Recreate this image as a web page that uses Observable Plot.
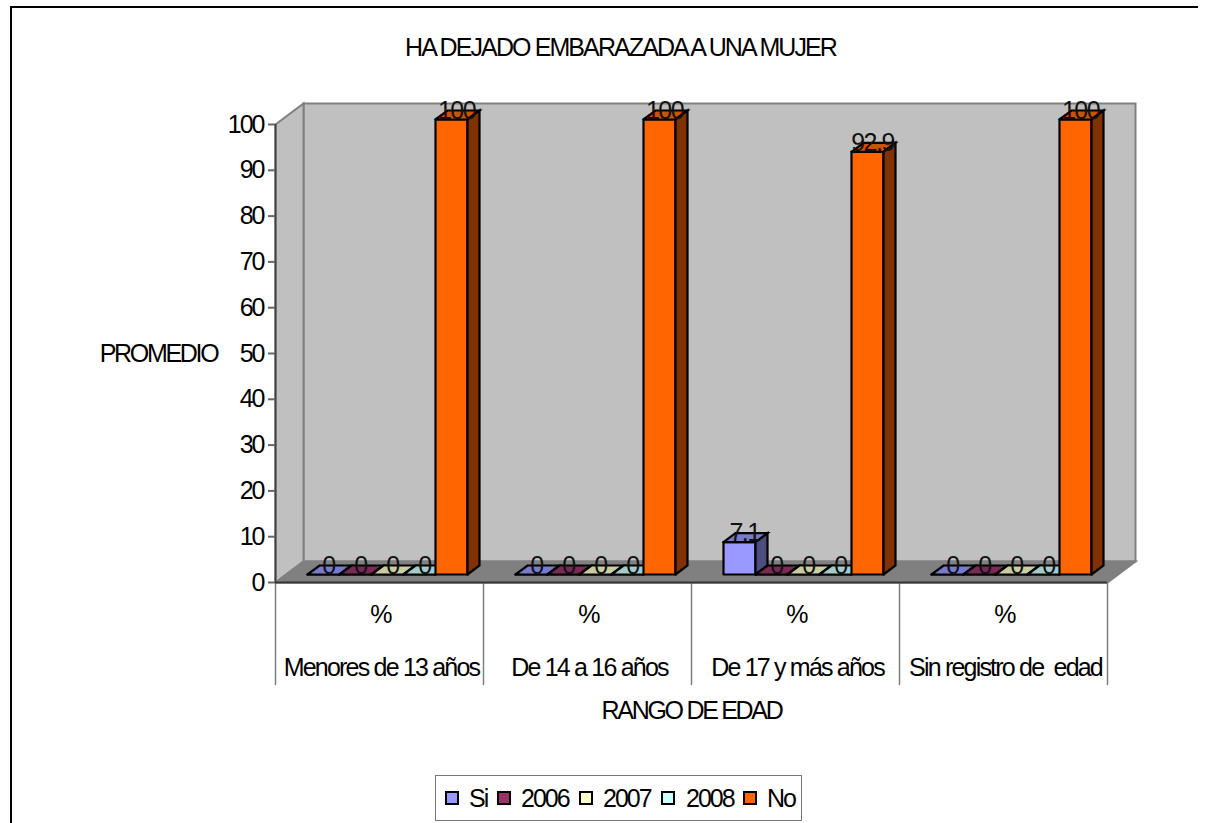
<!DOCTYPE html>
<html><head><meta charset="utf-8">
<script src="https://cdn.jsdelivr.net/npm/d3@7"></script>
<script src="https://cdn.jsdelivr.net/npm/@observablehq/plot@0.6"></script>
<style>
html,body{margin:0;padding:0;background:#fff;overflow:hidden;height:823px}
body{font-family:"Liberation Sans",Arial,sans-serif;color:#000;position:relative}
#frame{position:absolute;left:10px;top:6px;width:1186px;height:900px;border:2px solid #000;border-right:none}
#title{position:absolute;left:0;width:1241px;top:32px;text-align:center;font-size:25px;letter-spacing:-1.9px;line-height:30px}
#chart{position:absolute;left:0;top:90px}
#legend{position:absolute;left:435px;top:775px;width:365px;height:44px;border:1.5px solid #777;box-sizing:content-box}
#legend .sw{position:absolute;top:15px;width:10px;height:10px;border:2px solid #000}
#legend .lb{position:absolute;top:7px;font-size:25px;letter-spacing:-2px;line-height:30px}
svg text{font-family:"Liberation Sans",Arial,sans-serif}
.ticks text{letter-spacing:-2px}
.vals text{letter-spacing:-1.5px}
.cats text{letter-spacing:-1.8px}
.axt text{letter-spacing:-2.3px}
</style></head><body>
<div id="frame"></div>
<div id="title">HA DEJADO EMBARAZADA A UNA MUJER</div>
<div id="chart"></div>
<div id="legend"></div>
<script>
const categories = ["Menores de 13 años","De 14 a 16 años","De 17 y más años","Sin registro de  edad"];
const series = ["Si","2006","2007","2008","No"];
const siValues   = [0,0,7.1,0];
const y2006      = [0,0,0,0];
const y2007      = [0,0,0,0];
const y2008      = [0,0,0,0];
const noValues   = [100,100,92.9,100];
const valueLabels = [siValues,y2006,y2007,y2008,noValues];
const yTicks = [0,10,20,30,40,50,60,70,80,90,100];
const frontColors = ["#9999ff","#993366","#ffffcc","#ccffff","#ff6600"];
const topColors   = ["#7a7acc","#7a2952","#ccccA3","#a3cccc","#cc5200"];
const sideColors  = ["#4d4d80","#4d1a33","#808066","#668080","#803300"];

// Projection constants of the pseudo-3D box, in scale units
const pxX = 1/208, pxY = 100/458;
const wallDX = 28*pxX, wallDY = 21*pxY;
const barDX = 12*pxX, barDY = 9*pxY;
const barW = 32*pxX, barStart = 32*pxX, barBase = 8*pxY, barK = 455/458;

const rings = [];
function ring(id, fill, stroke, pts){ pts.concat([pts[0]]).forEach(p=>rings.push({id,fill,stroke,x:p[0],y:p[1]})); }

const n = categories.length;
const bars=[], labels=[];
categories.forEach((c,ci)=>{
  series.forEach((s,si)=>{
    const v = valueLabels[si][ci];
    const x0 = ci + barStart + si*barW, x1 = x0+barW;
    const y0 = barBase, y1 = barBase + v*barK;
    bars.push({k:`${ci}-${si}`,si,x0,x1,y0,y1});
    labels.push({x:(x0+x1)/2, y:y1, text:String(v)});
  });
});
bars.forEach(b=>{
  ring(b.k+"f",frontColors[b.si],"#000",[[b.x0,b.y0],[b.x1,b.y0],[b.x1,b.y1],[b.x0,b.y1]]);
  ring(b.k+"t",topColors[b.si],"#000",[[b.x0,b.y1],[b.x1,b.y1],[b.x1+barDX,b.y1+barDY],[b.x0+barDX,b.y1+barDY]]);
  ring(b.k+"s",sideColors[b.si],"#000",[[b.x1,b.y0],[b.x1+barDX,b.y0+barDY],[b.x1+barDX,b.y1+barDY],[b.x1,b.y1]]);
});
const walls=[];
function wall(id,fill,stroke,pts){ pts.concat([pts[0]]).forEach(p=>walls.push({id,fill,stroke,x:p[0],y:p[1]})); }
wall("back","#c0c0c0","#808080",[[wallDX,wallDY],[n+wallDX,wallDY],[n+wallDX,100+wallDY],[wallDX,100+wallDY]]);
wall("left","#c0c0c0","#808080",[[0,0],[wallDX,wallDY],[wallDX,100+wallDY],[0,100]]);
wall("floor","#808080","#808080",[[0,0],[n,0],[n+wallDX,wallDY],[wallDX,wallDY]]);

const plot = Plot.plot({
  width:1209, height:620,
  marginLeft:275, marginRight:102, marginTop:34, marginBottom:128,
  x:{type:"linear",domain:[0,n], axis:null},
  y:{type:"linear",domain:[0,100], axis:null},
  color:{type:"identity"},
  style:{background:"transparent",overflow:"visible"},
  marks:[
    Plot.line(walls,{x:"x",y:"y",z:"id",fill:"fill",stroke:"stroke",strokeWidth:2,strokeLinejoin:"miter",strokeMiterlimit:4,curve:"linear"}),
    Plot.ruleX(d3.range(n+1),{x:d=>d,y1:0,y2:-22.5,stroke:"#808080",strokeWidth:1.5}),
    Plot.ruleY([0],{x1:0,x2:n,stroke:"#333",strokeWidth:2}),
    Plot.ruleX([0],{y1:0,y2:100,stroke:"#444",strokeWidth:2}),
    Plot.ruleY(yTicks,{y:d=>d,x1:-7*pxX,x2:0,stroke:"#666",strokeWidth:2}),
    Plot.text(yTicks,{x:0,y:d=>d,text:d=>String(d),textAnchor:"end",dx:-12,fontSize:25,fill:"#000",className:"ticks"}),
    Plot.line(rings,{x:"x",y:"y",z:"id",fill:"fill",stroke:"stroke",strokeWidth:2.2,strokeLinejoin:"miter",strokeMiterlimit:4,curve:"linear"}),
    Plot.text(labels,{x:"x",y:"y",text:"text",dx:5,dy:-9,fontSize:25,fill:"#111",className:"vals"}),
    Plot.text(categories,{x:(d,i)=>i+0.5,y:0,text:()=>"%",dy:32,dx:1,fontSize:25,fill:"#000",className:"cats"}),
    Plot.text(categories,{x:(d,i)=>i+0.5,y:0,text:d=>d,dy:85,dx:2,fontSize:25,fill:"#000",className:"cats"}),
    Plot.text(["RANGO DE EDAD"],{x:n/2,y:0,dy:128,dx:0,fontSize:25,fill:"#000",className:"axt"}),
    Plot.text(["PROMEDIO"],{x:0,y:50,dx:-117,fontSize:25,fill:"#000",className:"axt"})
  ]
});
document.getElementById("chart").append(plot);

const lg = document.getElementById("legend");
const swX=[9,61,143,225,307], lbX=[33,85,167,250,331];
series.forEach((s,i)=>{
  const sw=document.createElement("div"); sw.className="sw"; sw.style.left=swX[i]+"px"; sw.style.background=frontColors[i];
  const lb=document.createElement("div"); lb.className="lb"; lb.style.left=lbX[i]+"px"; lb.textContent=s;
  lg.append(sw,lb);
});
</script>
</body></html>
